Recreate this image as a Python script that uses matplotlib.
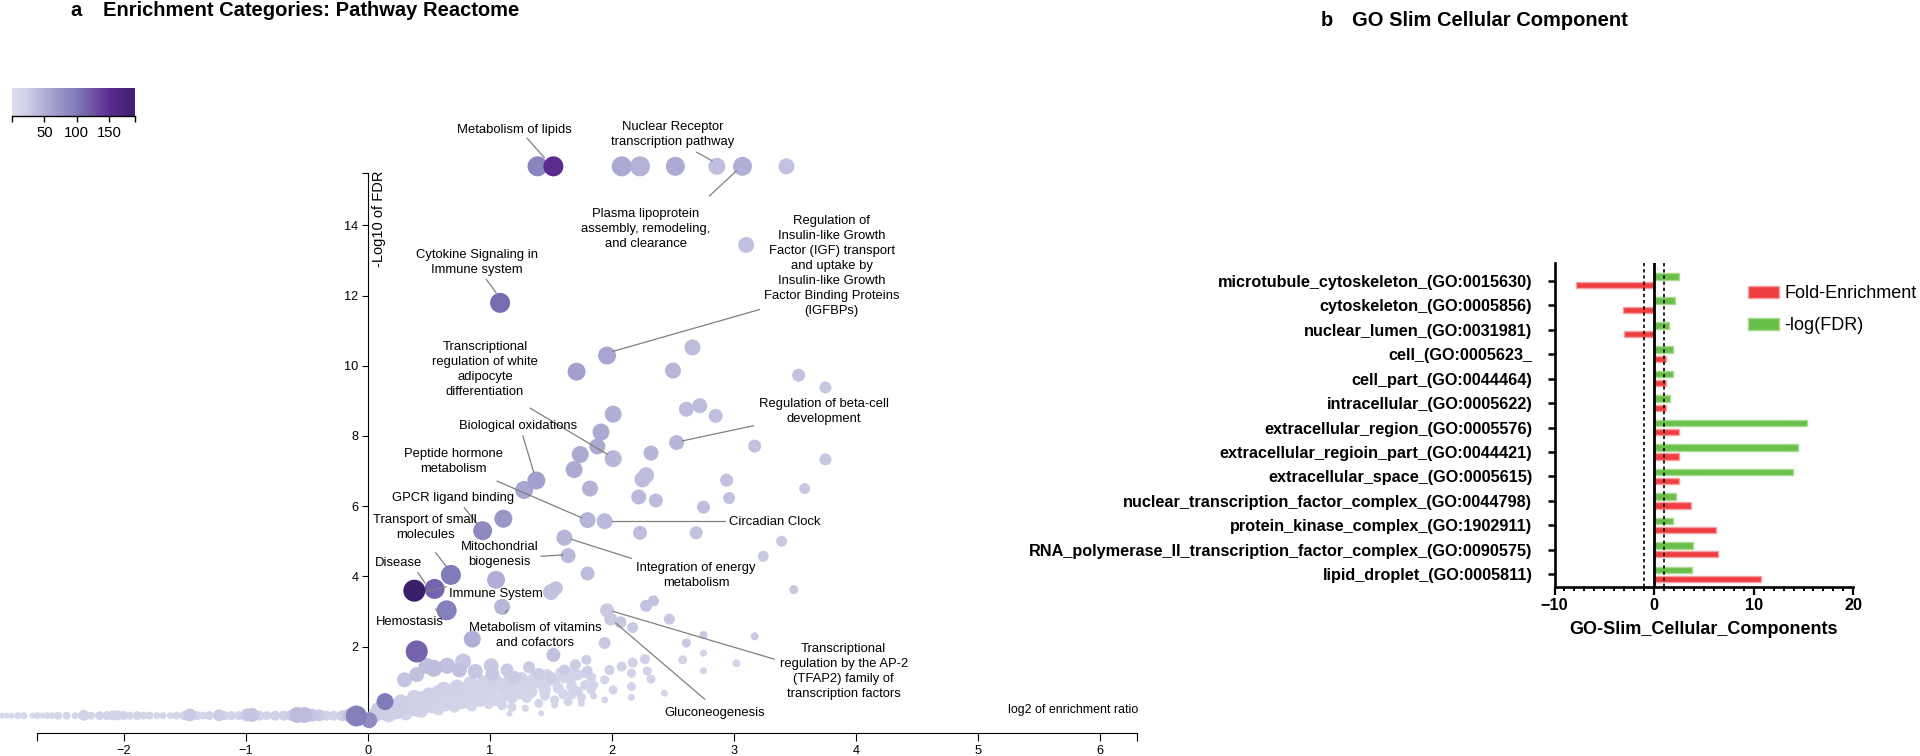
import numpy as np
import matplotlib
matplotlib.use("Agg")
import matplotlib.pyplot as plt
from matplotlib.colors import LinearSegmentedColormap, Normalize
from matplotlib.patches import Patch

plt.rcParams['font.family'] = ['Liberation Sans', 'DejaVu Sans']

W, H = 1920, 756

# ---------------- panel a: volcano-style enrichment plot ----------------
# distinct categories (x = log2 enrichment ratio, y = -log10 FDR)
pt_x = [1.39, 1.52, 2.08, 2.23, 2.52, 2.86, 3.07, 3.43, 3.10, 1.083,
        1.96, 2.66, 1.71, 2.50, 3.53, 3.75, 2.61, 2.72, 2.85, 2.01,
        1.91, 1.88, 2.01, 1.74, 1.69, 2.32, 2.53, 3.17, 3.75, 2.25,
        2.28, 1.82, 2.94, 3.58, 1.38, 1.28, 2.22, 2.36, 2.96, 2.75,
        1.11, 1.80, 1.94, 0.94, 1.61, 1.64, 2.23, 2.69, 3.39, 3.24,
        1.80, 1.05, 0.68, 0.546, 0.38, 0.645, 1.10, 1.50, 1.54, 3.49,
        2.28, 2.34, 1.96, 1.99, 2.07, 2.17, 2.47, 2.75, 3.17, 2.61,
        1.94, 0.855, 0.40, 1.52, 0.14, -0.095, 0.01]
pt_y = [15.68, 15.68, 15.68, 15.68, 15.68, 15.68, 15.68, 15.68, 13.44, 11.79,
        10.29, 10.52, 9.83, 9.86, 9.73, 9.38, 8.76, 8.86, 8.57, 8.62,
        8.11, 7.70, 7.35, 7.47, 7.04, 7.51, 7.81, 7.71, 7.33, 6.76,
        6.88, 6.50, 6.74, 6.50, 6.73, 6.46, 6.26, 6.16, 6.23, 5.97,
        5.64, 5.60, 5.57, 5.30, 5.10, 4.59, 5.24, 5.24, 5.00, 4.57,
        4.08, 3.90, 4.04, 3.64, 3.59, 3.03, 3.13, 3.55, 3.66, 3.62,
        3.16, 3.30, 3.03, 2.78, 2.69, 2.54, 2.78, 2.33, 2.29, 2.10,
        2.10, 2.21, 1.86, 1.76, 0.43, 0.02, -0.10]
pt_size = [20, 20, 20, 20, 19, 17, 19, 16, 16, 20,
           18, 16, 18, 16, 13, 12, 15, 15, 14, 17,
           17, 16, 17, 17, 17, 15, 15, 13, 12, 16,
           16, 16, 13, 11, 18, 18, 15, 14, 12, 13,
           18, 16, 16, 19, 16, 15, 14, 13, 11, 11,
           14, 18, 20, 20, 22, 20, 16, 16, 14, 9,
           12, 11, 14, 13, 12, 11, 11, 8, 8, 9,
           12, 17, 22, 14, 17, 21, 16]
pt_count = [90, 155, 55, 48, 55, 38, 50, 35, 35, 110,
            60, 40, 65, 45, 35, 32, 40, 40, 38, 50,
            55, 55, 45, 55, 55, 45, 45, 35, 32, 40,
            40, 48, 35, 30, 65, 60, 42, 40, 35, 38,
            75, 45, 42, 85, 45, 42, 38, 35, 30, 30,
            40, 50, 100, 115, 190, 95, 45, 35, 35, 30,
            35, 35, 30, 30, 30, 30, 30, 30, 30, 30,
            30, 50, 115, 35, 100, 95, 85]

# band of mid-size categories just above the main cloud
band_x = [0.54, 0.48, 0.65, 0.78, 0.75, 0.88, 1.01, 1.02, 1.14, 1.20,
          1.32, 1.40, 1.50, 1.61, 1.70, 1.79, 1.80, 0.30, 0.40]
band_y = [1.38, 1.45, 1.45, 1.57, 1.33, 1.29, 1.45, 1.22, 1.33, 1.12,
          1.41, 1.22, 1.12, 1.33, 1.48, 1.62, 1.31, 1.05, 1.20]
band_size = [17, 16, 16, 16, 15, 15, 15, 14, 13, 13, 12, 12, 11, 11, 11, 10, 10, 15, 15]
band_count = [40, 38, 36, 32, 35, 32, 30, 30, 28, 28, 28, 26, 26, 26, 26, 26, 26, 34, 36]

# dense cloud of low-significance categories
cloud_x = [0.11, 0.20, 0.31, 0.43, 0.55, 0.58, 0.70, 0.78, 0.85, 0.93,
           1.00, 1.07, 1.14, 1.20, 1.27, 1.34, 1.41, 1.48, 1.53, 1.61,
           1.67, 1.72, 1.78,
           0.06, 0.14, 0.25, 0.36, 0.47, 0.58, 0.69, 0.80, 0.90, 1.01,
           1.12, 1.23, 1.34, 1.45, 1.56, 1.67, 1.78,
           0.17, 0.31, 0.44, 0.58, 0.71, 0.85, 0.99, 1.10, 1.18, 1.16,
           1.29, 1.42, 1.40, 1.53, 1.53, 1.64, 1.67, 1.75, 1.75, 1.83,
           1.85,
           1.83, 1.85, 1.94, 2.01, 1.94, 2.16, 2.16, 2.16, 2.29, 2.32,
           2.43, 2.75, 1.98, 2.08, 2.17, 2.27, 2.58, 2.75, 3.02,
           0.08, 0.18, 0.27, 0.38, 0.50, 0.62, 0.73, 0.84, 0.95, 1.05,
           1.16, 1.26, 1.37, 1.47, 1.58, 1.68,
           0.22, 0.40, 0.52, 0.64, 0.77, 0.92, 1.05, 1.18, 1.30, 1.45,
           1.60, 1.72]
cloud_y = [0.14, 0.27, 0.35, 0.48, 0.59, 0.67, 0.71, 0.76, 0.78, 0.86,
           0.84, 0.90, 0.86, 0.93, 0.90, 1.00, 0.97, 1.05, 1.05, 1.12,
           1.12, 1.19, 1.24,
           0.05, 0.10, 0.17, 0.24, 0.33, 0.40, 0.48, 0.52, 0.57, 0.59,
           0.62, 0.67, 0.71, 0.76, 0.81, 0.86, 0.90,
           0.02, 0.08, 0.14, 0.21, 0.27, 0.31, 0.36, 0.33, 0.27, 0.08,
           0.24, 0.10, 0.38, 0.48, 0.33, 0.43, 0.62, 0.55, 0.38, 0.76,
           0.59,
           1.12, 0.90, 1.05, 0.76, 0.48, 1.24, 0.86, 0.55, 1.30, 1.07,
           0.67, 1.31, 1.33, 1.43, 1.54, 1.64, 1.62, 1.81, 1.52,
           0.22, 0.32, 0.42, 0.55, 0.62, 0.78, 0.86, 0.95, 0.98, 1.02,
           1.05, 1.10, 1.15, 1.20, 1.25, 1.30,
           0.10, 0.18, 0.28, 0.34, 0.40, 0.45, 0.48, 0.52, 0.55, 0.60,
           0.65, 0.72]
cloud_size = [15, 16, 16, 17, 17, 16, 17, 16, 16, 15,
              16, 15, 15, 14, 14, 13, 13, 13, 12, 12,
              11, 11, 10,
              15, 15, 16, 16, 16, 15, 15, 15, 14, 14,
              13, 13, 12, 12, 11, 11, 10,
              13, 13, 12, 12, 11, 11, 10, 10, 9, 6,
              7, 6, 9, 9, 7, 9, 9, 9, 7, 9,
              7,
              10, 9, 9, 9, 7, 9, 9, 7, 9, 9,
              7, 7, 10, 10, 10, 10, 9, 7, 8,
              13, 14, 15, 15, 15, 15, 14, 14, 14, 13,
              13, 12, 12, 11, 11, 10,
              13, 13, 13, 13, 13, 12, 12, 11, 11, 10,
              10, 10]
cloud_count = [24, 24, 23, 23, 22, 22, 21, 21, 21, 20,
               20, 20, 20, 19, 19, 19, 19, 18, 18, 18,
               18, 18, 18,
               26, 25, 24, 23, 22, 21, 21, 20, 20, 19,
               19, 18, 18, 18, 17, 17, 17,
               20, 19, 18, 18, 17, 17, 16, 16, 16, 15,
               15, 15, 16, 16, 15, 16, 16, 16, 15, 16,
               15,
               20, 18, 18, 18, 16, 20, 18, 16, 20, 18,
               16, 18, 22, 22, 22, 22, 20, 18, 18,
               26, 25, 25, 24, 24, 23, 23, 22, 22, 21,
               21, 20, 20, 20, 19, 19,
               22, 21, 20, 20, 19, 19, 18, 18, 17, 17,
               17, 17]

# categories with negative log2 enrichment (all at FDR ~ 1)
neg_x = [-3.00, -2.96, -2.92, -2.87, -2.82, -2.75, -2.71, -2.67, -2.63, -2.59,
         -2.54, -2.47, -2.40, -2.33, -2.27, -2.20, -2.14, -2.09, -2.05, -2.00,
         -1.95, -1.89, -1.84, -1.79, -1.73, -1.68, -1.62, -1.57, -1.51, -1.46,
         -1.40, -1.35, -1.30, -1.22, -1.17, -1.12, -1.06, -0.99, -0.95, -0.89,
         -0.83, -0.76, -0.69, -0.63, -0.58, -0.52, -0.46, -0.40, -0.34, -0.28,
         -0.21, -0.15]
neg_y = [0.03, 0.03, 0.03, 0.03, 0.03, 0.03, 0.03, 0.03, 0.03, 0.03,
         0.03, 0.03, 0.03, 0.04, 0.03, 0.03, 0.03, 0.04, 0.04, 0.03,
         0.03, 0.03, 0.03, 0.03, 0.03, 0.03, 0.03, 0.03, 0.03, 0.05,
         0.03, 0.03, 0.03, 0.04, 0.03, 0.03, 0.03, 0.05, 0.05, 0.03,
         0.03, 0.03, 0.03, 0.04, 0.05, 0.05, 0.04, 0.04, 0.03, 0.03,
         0.03, 0.04]
neg_size = [6, 6, 6, 7, 7, 6, 7, 6, 7, 7,
            8, 8, 7, 11, 8, 9, 9, 10, 10, 9,
            8, 9, 8, 8, 7, 7, 7, 8, 9, 13,
            9, 8, 9, 12, 9, 9, 9, 13, 14, 10,
            9, 10, 10, 11, 16, 16, 13, 12, 10, 10,
            11, 14]
neg_count = [12, 12, 12, 14, 14, 12, 14, 12, 14, 14,
             16, 16, 14, 22, 16, 18, 18, 20, 20, 18,
             16, 18, 16, 16, 14, 14, 14, 16, 18, 28,
             18, 16, 18, 26, 18, 18, 18, 30, 32, 20,
             18, 22, 22, 26, 40, 40, 32, 28, 22, 22,
             26, 36]

# labelled categories: text, text position, leader line ends
labels = [
    ("Metabolism of lipids", 1.20, 16.72, (1.305, 16.48, 1.445, 15.93)),
    ("Nuclear Receptor\ntranscription pathway", 2.50, 16.58, (2.695, 16.08, 2.82, 15.84)),
    ("Plasma lipoprotein\nassembly, remodeling,\nand clearance", 2.28, 13.89, (2.80, 14.84, 3.02, 15.55)),
    ("Regulation of\nInsulin-like Growth\nFactor (IGF) transport\nand uptake by\n"
     "Insulin-like Growth\nFactor Binding Proteins\n(IGFBPs)", 3.80, 12.84, (3.21, 11.60, 2.01, 10.41)),
    ("Cytokine Signaling in\nImmune system", 0.89, 12.95, (0.97, 12.46, 1.05, 12.08)),
    ("Transcriptional\nregulation of white\nadipocyte\ndifferentiation", 0.96, 9.89, (1.33, 8.79, 1.96, 7.48)),
    ("Regulation of beta-cell\ndevelopment", 3.74, 8.70, (3.16, 8.29, 2.58, 7.86)),
    ("Biological oxidations", 1.23, 8.27, (1.27, 8.00, 1.36, 6.95)),
    ("Peptide hormone\nmetabolism", 0.70, 7.27, (1.06, 6.71, 1.75, 5.67)),
    ("GPCR ligand binding", 0.70, 6.22, (0.79, 5.95, 0.90, 5.48)),
    ("Transport of small\nmolecules", 0.47, 5.39, (0.555, 4.67, 0.64, 4.29)),
    ("Circadian Clock", 3.33, 5.55, (2.93, 5.57, 2.00, 5.57)),
    ("Mitochondrial\nbiogenesis", 1.08, 4.62, (1.42, 4.57, 1.60, 4.61)),
    ("Integration of energy\nmetabolism", 2.69, 4.02, (2.16, 4.51, 1.67, 5.05)),
    ("Disease", 0.25, 4.38, (0.41, 4.10, 0.467, 3.81)),
    ("Immune System", 1.045, 3.50, (0.64, 3.70, 0.48, 3.57)),
    ("Hemostasis", 0.34, 2.69, (0.555, 3.07, 0.59, 2.90)),
    ("Metabolism of vitamins\nand cofactors", 1.37, 2.31, (1.125, 2.95, 1.14, 3.03)),
    ("Transcriptional\nregulation by the AP-2\n(TFAP2) family of\ntranscription factors", 3.90, 1.29,
     (3.33, 1.64, 2.01, 3.00)),
    ("Gluconeogenesis", 2.84, 0.10, (2.76, 0.50, 2.03, 2.67)),
]

# ---------------- panel b: GO slim cellular component ----------------
categories = [
    "microtubule_cytoskeleton_(GO:0015630)",
    "cytoskeleton_(GO:0005856)",
    "nuclear_lumen_(GO:0031981)",
    "cell_(GO:0005623_",
    "cell_part_(GO:0044464)",
    "intracellular_(GO:0005622)",
    "extracellular_region_(GO:0005576)",
    "extracellular_regioin_part_(GO:0044421)",
    "extracellular_space_(GO:0005615)",
    "nuclear_transcription_factor_complex_(GO:0044798)",
    "protein_kinase_complex_(GO:1902911)",
    "RNA_polymerase_II_transcription_factor_complex_(GO:0090575)",
    "lipid_droplet_(GO:0005811)",
]
fold_enrichment = [-7.8, -3.1, -3.0, 1.24, 1.24, 1.24, 2.51, 2.51, 2.51, 3.72, 6.23, 6.37, 10.69]
neg_log_fdr = [2.5, 2.1, 1.54, 1.88, 1.88, 1.64, 15.34, 14.4, 13.97, 2.18, 1.88, 3.95, 3.85]

# ---------------------------------------------------------------------
cmap = LinearSegmentedColormap.from_list(
    "purp", [(0.0, "#e0e0ef"), (0.12, "#d0d0e8"), (0.26, "#b2b0d6"),
             (0.53, "#7f7ab8"), (0.79, "#5d2e93"), (1.0, "#3c1f6b")])
norm = Normalize(0, 190)

fig = plt.figure(figsize=(W / 100, H / 100), dpi=100)

# pixel mapping: x=0 at 368 px, 122 px/unit; y=0 at 716.7 px, 35.1 px/unit
xl = (-3.016, 6.4)
yl = (-0.8, 16.6)
ax = fig.add_axes([0.0, (H - (716.7 + 0.8 * 35.1)) / H,
                   (xl[1] - xl[0]) * 122 / W, (yl[1] - yl[0]) * 35.1 / H])
ax.set_xlim(*xl)
ax.set_ylim(*yl)


def dots(xs, ys, sizes, counts):
    order = np.argsort(counts, kind="stable")
    xs, ys = np.asarray(xs)[order], np.asarray(ys)[order]
    sizes, counts = np.asarray(sizes)[order], np.asarray(counts)[order]
    ax.scatter(xs, ys, s=(0.72 * sizes) ** 2, c=counts, cmap=cmap, norm=norm,
               linewidths=0, zorder=3, clip_on=False)


dots(neg_x, neg_y, neg_size, neg_count)
dots(cloud_x, cloud_y, cloud_size, cloud_count)
dots(band_x, band_y, band_size, band_count)
dots(pt_x, pt_y, pt_size, pt_count)

for text, tx, ty, (x1, y1, x2, y2) in labels:
    ax.text(tx, ty, text, ha="center", va="center", fontsize=9.4,
            linespacing=1.33, zorder=5)
    ax.plot([x1, x2], [y1, y2], color="#808080", lw=0.9, zorder=4)

for s in ["top", "right"]:
    ax.spines[s].set_visible(False)
ax.spines["left"].set_position(("data", 0))
ax.spines["left"].set_bounds(-0.25, 15.5)
ax.spines["bottom"].set_position(("data", -0.46))
ax.spines["bottom"].set_bounds(-2.71, 6.3)
for s in ["left", "bottom"]:
    ax.spines[s].set_linewidth(0.8)
ax.set_xticks(range(-2, 7))
ax.set_xticks([-2.71, 6.3], minor=True)
ax.set_yticks(range(0, 15, 2))
ax.set_yticks([15.5], minor=True)
ax.tick_params(axis="x", which="both", length=5.5, width=0.8, labelsize=9.2, pad=3.5)
ax.tick_params(axis="y", which="both", length=4.3, width=0.8, labelsize=9.2, pad=2.5)
ax.patch.set_visible(False)

ax.text(0.094, 14.2, "-Log10 of FDR", rotation=90, ha="center", va="center", fontsize=10.5)
ax.text(6.31, 0.2, "log2 of enrichment ratio", ha="right", va="center", fontsize=8.9)

# colour bar
cax = fig.add_axes([12 / W, 1 - 116 / H, 123 / W, 28.3 / H])
cax.imshow(np.linspace(0, 190, 256)[None, :], aspect="auto", cmap=cmap, norm=norm,
           extent=[0, 190, 0, 1])
cax.set_xlim(0, 190)
cax.set_yticks([])
cax.set_xticks([0, 50, 100, 150, 190], ["", "50", "100", "150", ""])
for s in ["top", "right", "left"]:
    cax.spines[s].set_visible(False)
cax.spines["bottom"].set_linewidth(1.0)
cax.tick_params(axis="x", length=4.2, width=1.0, labelsize=10.7, pad=3)

fig.text(70 / W, 1 - 10.5 / H, "a", fontsize=14.5, fontweight="bold", va="center")
fig.text(103 / W, 1 - 10.5 / H, "Enrichment Categories: Pathway Reactome", fontsize=14.5,
         fontweight="bold", va="center")

# ---------------- panel b ----------------
axb = fig.add_axes([1554.5 / W, 1 - 587.3 / H, (1853.3 - 1554.5) / W, (587.3 - 262.7) / H])
ypos = np.arange(len(categories))
axb.barh(ypos - 0.185, neg_log_fdr, height=0.27, color="#6abf4b", edgecolor="#a8dc90",
         linewidth=1.0, zorder=2, label="-log(FDR)")
axb.barh(ypos + 0.185, fold_enrichment, height=0.25, color="#ef3e42", edgecolor="#f6a0a0",
         linewidth=1.0, zorder=2, label="Fold-Enrichment")
axb.set_xlim(-10, 20)
axb.set_ylim(12.53, -0.74)
axb.axvline(0, color="black", lw=2.0, zorder=3)
for v in (-1, 1):
    axb.axvline(v, color="black", lw=1.2, ls=(0, (2.0, 1.7)), zorder=3)
for s in ["top", "right"]:
    axb.spines[s].set_visible(False)
for s in ["left", "bottom"]:
    axb.spines[s].set_linewidth(1.9)
axb.set_yticks(ypos, categories, fontweight="bold", fontsize=11.7)
axb.set_xticks([-10, 0, 10, 20])
axb.set_xticks(np.arange(-10, 21, 1), minor=True)
for lab in axb.get_xticklabels():
    lab.set_fontweight("bold")
axb.tick_params(axis="y", length=5, width=1.8, pad=11)
axb.tick_params(axis="x", which="major", length=5.4, width=1.6, labelsize=11.7, pad=2)
axb.tick_params(axis="x", which="minor", length=3, width=1.4)
fig.text((1554.5 + 1853.3) / 2 / W, 1 - 629 / H, "GO-Slim_Cellular_Components",
         ha="center", va="center", fontsize=13, fontweight="bold")

handles = [Patch(facecolor="#ef3e42", edgecolor="#f6a0a0", label="Fold-Enrichment"),
           Patch(facecolor="#6abf4b", edgecolor="#a8dc90", label="-log(FDR)")]
fig.legend(handles=handles, loc="upper left", bbox_to_anchor=(1748 / W, 1 - 285 / H),
           frameon=False, fontsize=13, borderpad=0, borderaxespad=0,
           handlelength=1.7, handleheight=0.67, handletextpad=0.3, labelspacing=0.85)

fig.text(1321 / W, 1 - 20.7 / H, "b", fontsize=14.5, fontweight="bold", va="center")
fig.text(1352.5 / W, 1 - 20.7 / H, "GO Slim Cellular Component", fontsize=14.5,
         fontweight="bold", va="center")

fig.savefig("out.png", dpi=100)
